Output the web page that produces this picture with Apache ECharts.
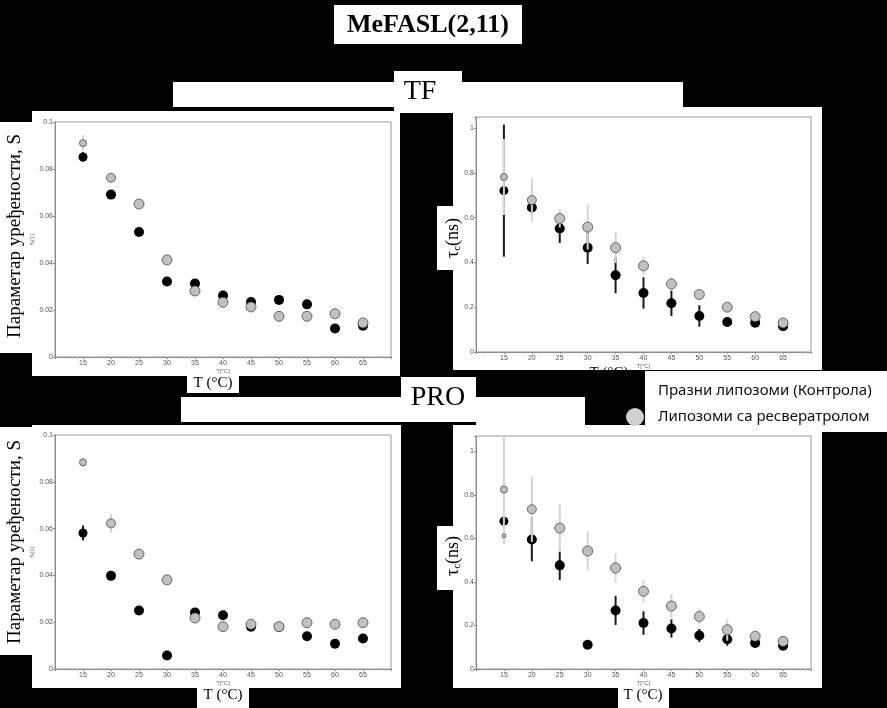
<!DOCTYPE html>
<html><head><meta charset="utf-8">
<script src="https://cdn.jsdelivr.net/npm/echarts@6/dist/echarts.min.js"></script>
<style>html,body{margin:0;padding:0;background:#000}#c{width:887px;height:708px}</style>
</head><body><div id="c"></div>
<script>
// ---------- data ----------
const temps = [15, 20, 25, 30, 35, 40, 45, 50, 55, 60, 65];
const xTickLabels = [15, 20, 25, 30, 35, 40, 45, 50, 55, 60, 65];
const seriesNames = ['Празни липозоми (Контрола)', 'Липозоми са ресвератролом'];

// TF – order parameter S
const tfS_control     = [0.0851, 0.0691, 0.0532, 0.0321, 0.0313, 0.0262, 0.0234, 0.0243, 0.0224, 0.0121, 0.0133];
const tfS_control_err = [0.0020, 0.0010, 0.0010, 0.0010, 0.0010, 0.0010, 0.0010, 0.0010, 0.0010, 0.0010, 0.0010];
const tfS_resv        = [0.0910, 0.0763, 0.0651, 0.0413, 0.0281, 0.0233, 0.0213, 0.0173, 0.0173, 0.0184, 0.0145];
const tfS_resv_err    = [0.0035, 0.0020, 0.0010, 0.0010, 0.0010, 0.0010, 0.0010, 0.0010, 0.0010, 0.0010, 0.0010];

// TF – rotational correlation time tau_c (ns)
const tfT_control     = [0.721, 0.646, 0.552, 0.466, 0.343, 0.264, 0.218, 0.161, 0.134, 0.131, 0.115];
const tfT_control_err = [0.295, 0.030, 0.065, 0.073, 0.080, 0.070, 0.057, 0.048, 0.015, 0.020, 0.010];
const tfT_resv        = [0.782, 0.679, 0.596, 0.558, 0.466, 0.385, 0.304, 0.257, 0.200, 0.158, 0.130];
const tfT_resv_err    = [0.170, 0.100, 0.040, 0.100, 0.068, 0.040, 0.030, 0.020, 0.020, 0.015, 0.010];

// PRO – order parameter S
const proS_control     = [0.0581, 0.0398, 0.0250, 0.0058, 0.0241, 0.0230, 0.0181, 0.0180, 0.0140, 0.0108, 0.0130];
const proS_control_err = [0.0032, 0.0010, 0.0010, 0.0010, 0.0010, 0.0010, 0.0010, 0.0010, 0.0010, 0.0010, 0.0010];
const proS_resv        = [0.0883, 0.0622, 0.0491, 0.0381, 0.0218, 0.0181, 0.0191, 0.0181, 0.0198, 0.0191, 0.0198];
const proS_resv_err    = [0.0020, 0.0039, 0.0010, 0.0010, 0.0010, 0.0010, 0.0010, 0.0010, 0.0010, 0.0010, 0.0010];

// PRO – tau_c (ns)
const proT_control     = [0.679, 0.595, 0.476, 0.111, 0.269, 0.211, 0.186, 0.154, 0.137, 0.119, 0.107];
const proT_control_err = [0.020, 0.100, 0.067, 0.010, 0.067, 0.054, 0.042, 0.030, 0.030, 0.020, 0.010];
const proT_resv        = [0.824, 0.734, 0.647, 0.542, 0.464, 0.357, 0.289, 0.241, 0.180, 0.150, 0.127];
const proT_resv_err    = [0.250, 0.150, 0.110, 0.090, 0.067, 0.052, 0.055, 0.035, 0.050, 0.020, 0.010];
const proT_resv_extraT = [15];
const proT_resv_extraV = [0.612];

const yTicksS   = [0, 0.02, 0.04, 0.06, 0.08, 0.1];
const yTicksTau = [0, 0.2, 0.4, 0.6, 0.8, 1];

// ---------- chart ----------
const chart = echarts.init(document.getElementById('c'));
const SERIF = '"Liberation Serif", "DejaVu Serif", serif';
const SANS = '"Liberation Sans", Arial, sans-serif';

const panels = [
  {grid: {left: 55,  top: 122, width: 336, height: 235}, ymax: 0.1,  yint: 0.02, yticks: yTicksS,   yname: 'S(1)', c: tfS_control,  ce: tfS_control_err,  r: tfS_resv,  re: tfS_resv_err},
  {grid: {left: 476, top: 117, width: 335, height: 235}, ymax: 1.05, yint: 0.2,  yticks: yTicksTau, yname: '',     c: tfT_control,  ce: tfT_control_err,  r: tfT_resv,  re: tfT_resv_err},
  {grid: {left: 55,  top: 435, width: 336, height: 234}, ymax: 0.1,  yint: 0.02, yticks: yTicksS,   yname: 'S(1)', c: proS_control, ce: proS_control_err, r: proS_resv, re: proS_resv_err},
  {grid: {left: 476, top: 436, width: 335, height: 233}, ymax: 1.07, yint: 0.2,  yticks: yTicksTau, yname: '',     c: proT_control, ce: proT_control_err, r: proT_resv, re: proT_resv_err}
];

function errRender(color, width) {
  return function (params, api) {
    const x = api.value(0), lo = api.value(1), hi = api.value(2);
    const a = api.coord([x, hi]), b = api.coord([x, lo]);
    return {type: 'line', shape: {x1: a[0], y1: a[1], x2: b[0], y2: b[1]},
            style: {stroke: color, lineWidth: width}};
  };
}

const grids = [], xAxes = [], yAxes = [], series = [];
panels.forEach((p, i) => {
  grids.push(Object.assign({show: true, backgroundColor: '#fff', borderColor: '#9a9a9a', borderWidth: 1}, p.grid));
  xAxes.push({
    type: 'value', gridIndex: i, min: 10, max: 70, interval: 5,
    name: 'T[°C]', nameLocation: 'middle', nameGap: 11,
    nameTextStyle: {fontSize: 6, color: '#666', fontFamily: SANS},
    axisLine: {show: true, lineStyle: {color: '#8a8a8a'}},
    axisTick: {show: true, length: 2, lineStyle: {color: '#8a8a8a'}},
    minorTick: {show: true, splitNumber: 5, length: 1.5, lineStyle: {color: '#aaa'}},
    splitLine: {show: false},
    axisLabel: {fontSize: 7, color: '#555', margin: 3, fontFamily: SANS,
      formatter: v => xTickLabels.indexOf(Math.round(v)) >= 0 && Math.abs(v - Math.round(v)) < 1e-6 ? String(Math.round(v)) : ''}
  });
  yAxes.push({
    type: 'value', gridIndex: i, min: 0, max: p.ymax, interval: p.yint,
    name: p.yname, nameLocation: 'middle', nameGap: 15,
    nameTextStyle: {fontSize: 6, color: '#666', fontFamily: SANS},
    axisLine: {show: true, lineStyle: {color: '#8a8a8a'}},
    axisTick: {show: true, length: 2, lineStyle: {color: '#8a8a8a'}},
    splitLine: {show: false},
    axisLabel: {fontSize: 7, color: '#555', margin: 2, fontFamily: SANS,
      formatter: v => {
        const hit = p.yticks.find(t => Math.abs(t - v) < 1e-9);
        return hit === undefined ? '' : String(hit);
      }}
  });
  const cErr = temps.map((t, k) => [t, p.c[k] - p.ce[k], p.c[k] + p.ce[k]]);
  const rErr = temps.map((t, k) => [t, p.r[k] - p.re[k], p.r[k] + p.re[k]]);
  series.push({
    type: 'custom', name: seriesNames[0], xAxisIndex: i, yAxisIndex: i, z: 1,
    renderItem: errRender('#1a1a1a', 2), encode: {x: 0, y: [1, 2]}, data: cErr, silent: true
  });
  series.push({
    type: 'scatter', name: seriesNames[0], xAxisIndex: i, yAxisIndex: i, z: 2,
    data: temps.map((t, k) => [t, p.c[k]]),
    symbol: 'circle', symbolSize: (v, prm) => prm.dataIndex === 0 ? 9 : 10,
    itemStyle: {color: '#000', borderColor: '#000', borderWidth: 0, opacity: 1}
  });
  series.push({
    type: 'custom', name: seriesNames[1], xAxisIndex: i, yAxisIndex: i, z: 3,
    renderItem: errRender('#d4d4d4', 2), encode: {x: 0, y: [1, 2]}, data: rErr, silent: true
  });
  series.push({
    type: 'scatter', name: seriesNames[1], xAxisIndex: i, yAxisIndex: i, z: 4,
    data: temps.map((t, k) => [t, p.r[k]]),
    symbol: 'circle', symbolSize: (v, prm) => prm.dataIndex === 0 ? 7 : (prm.dataIndex === 1 ? 9 : 10),
    itemStyle: {color: '#c0c0c0', borderColor: '#4a4a4a', borderWidth: 0.8, opacity: 1}
  });
});
// small extra marker in PRO tau panel
series.push({
  type: 'scatter', name: seriesNames[1], xAxisIndex: 3, yAxisIndex: 3, z: 4,
  data: proT_resv_extraT.map((t, k) => [t, proT_resv_extraV[k]]),
  symbol: 'circle', symbolSize: 4,
  itemStyle: {color: '#c0c0c0', borderColor: '#4a4a4a', borderWidth: 0.8, opacity: 1}
});

function rect(x, y, w, h) {
  return {type: 'rect', z: -10, shape: {x: x, y: y, width: w, height: h}, style: {fill: '#fff'}, silent: true};
}
function txt(x, y, text, font, rot, extra) {
  const st = Object.assign({text: text, x: 0, y: 0, font: font, fill: '#000',
    textAlign: 'center', textVerticalAlign: 'middle', align: 'center', verticalAlign: 'middle'}, extra || {});
  return {type: 'text', z: 10, x: x, y: y, rotation: rot || 0, style: st, silent: true};
}
const tauRich = {
  a: {fontFamily: SERIF, fontSize: 18, lineHeight: 20, verticalAlign: 'middle', color: '#000'},
  b: {fontFamily: SERIF, fontSize: 11, lineHeight: 11, verticalAlign: 'bottom', color: '#000'}
};
const R = Math.PI / 2;
const graphic = [
  rect(334, 5, 188, 39),
  rect(173, 82, 510, 25),
  rect(394, 71, 68, 42),
  rect(32, 111, 368, 265),
  rect(453, 107, 369, 263),
  rect(0, 122, 33, 231),
  rect(437, 206, 17, 64),
  rect(187, 375, 52, 18),
  rect(181, 397, 295, 25),
  rect(476, 397, 109, 28),
  rect(401, 377, 75, 41),
  rect(645, 371, 242, 61),
  rect(32, 425, 369, 263),
  rect(0, 427, 33, 228),
  rect(453, 425, 369, 263),
  rect(437, 526, 17, 64),
  rect(197, 688, 52, 20),
  rect(618, 688, 51, 20),
  txt(428, 25, 'MeFASL(2,11)', 'bold 26px ' + SERIF),
  txt(420, 92, 'TF', '28px ' + SERIF),
  txt(438, 398, 'PRO', '28px ' + SERIF),
  txt(15, 236, 'Параметар уређености, S', '19px ' + SERIF, R),
  txt(15, 542, 'Параметар уређености, S', '19px ' + SERIF, R),
  txt(453, 238, '{a|τ}{b|c}{a|(ns)}', '18px ' + SERIF, R, {rich: tauRich}),
  txt(453, 556, '{a|τ}{b|c}{a|(ns)}', '18px ' + SERIF, R, {rich: tauRich}),
  txt(213, 383, 'T (°C)', '15px ' + SERIF),
  txt(609, 373, 'T (°C)', '15px ' + SERIF),
  txt(223, 695, 'T (°C)', '15px ' + SERIF),
  txt(643, 695, 'T (°C)', '15px ' + SERIF)
];

chart.setOption({
  backgroundColor: '#000',
  animation: false,
  grid: grids,
  xAxis: xAxes,
  yAxis: yAxes,
  legend: {
    orient: 'vertical', left: 621, top: 377, itemWidth: 18, itemHeight: 18, itemGap: 8,
    selectedMode: false, icon: 'circle',
    textStyle: {fontFamily: '"Noto Sans", "Open Sans", sans-serif', fontSize: 15, color: '#111', padding: [0, 0, 0, 9]},
    data: [
      {name: seriesNames[0], icon: 'circle', itemStyle: {color: '#000', borderWidth: 0}},
      {name: seriesNames[1], icon: 'circle', itemStyle: {color: '#d0d0d0', borderWidth: 0}}
    ]
  },
  graphic: graphic,
  series: series
});
</script></body></html>
